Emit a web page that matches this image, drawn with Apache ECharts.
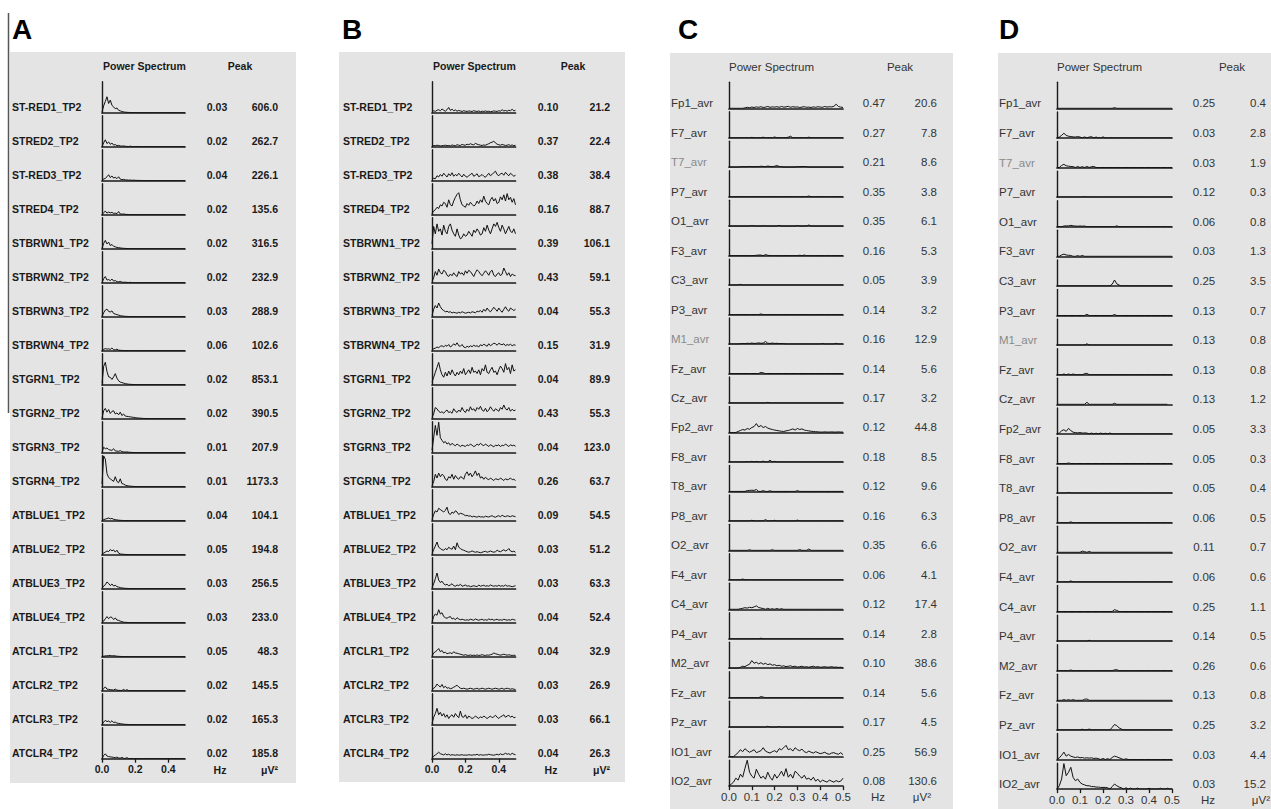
<!DOCTYPE html>
<html><head><meta charset="utf-8">
<script src="https://cdn.jsdelivr.net/npm/echarts@6/dist/echarts.min.js"></script>
<style>html,body{margin:0;padding:0;background:#fff}#c{width:1271px;height:809px}</style>
</head><body><div id="c"></div><script>
// ---------------- DATA ----------------
const FREQ = [0,0.01,0.02,0.03,0.04,0.05,0.06,0.07,0.08,0.09,0.1,0.11,0.12,0.13,0.14,0.15,0.16,0.17,0.18,0.19,0.2,0.21,0.22,0.23,0.24,0.25,0.26,0.27,0.28,0.29,0.3,0.31,0.32,0.33,0.34,0.35,0.36,0.37,0.38,0.39,0.4,0.41,0.42,0.43,0.44,0.45,0.46,0.47,0.48,0.49,0.5];
const X_TICKS_AB = [0, 0.2, 0.4];
const X_TICKS_CD = [0, 0.1, 0.2, 0.3, 0.4, 0.5];

const AB_NAMES_A = ['ST-RED1_TP2','STRED2_TP2','ST-RED3_TP2','STRED4_TP2','STBRWN1_TP2','STBRWN2_TP2','STBRWN3_TP2','STBRWN4_TP2','STGRN1_TP2','STGRN2_TP2','STGRN3_TP2','STGRN4_TP2','ATBLUE1_TP2','ATBLUE2_TP2','ATBLUE3_TP2','ATBLUE4_TP2','ATCLR1_TP2','ATCLR2_TP2','ATCLR3_TP2','ATCLR4_TP2'];
const A_HZ = ['0.03','0.02','0.04','0.02','0.02','0.02','0.03','0.06','0.02','0.02','0.01','0.01','0.04','0.05','0.03','0.03','0.05','0.02','0.02','0.02'];
const A_PW = ['606.0','262.7','226.1','135.6','316.5','232.9','288.9','102.6','853.1','390.5','207.9','1173.3','104.1','194.8','256.5','233.0','48.3','145.5','165.3','185.8'];
const A_SPEC = [
[30,260,430,606,350,480,280,220,150,180,90,70,45,30,20,15,10,8,6,5,4,3,3,2,2,2,2,1,1,1,1,1,1,1,1,1,1,1,1,1,1,1,1,1,1,1,1,1,1,1,1],
[20,150,262.7,120,180,90,140,60,80,40,50,30,20,30,15,10,8,20,5,5,4,3,10,3,3,2,2,2,8,2,2,2,2,2,2,2,2,2,2,2,2,2,2,2,2,2,2,2,2,2,2],
[10,60,90,150,226.1,120,180,100,130,80,150,60,40,50,30,30,20,25,15,20,15,10,12,8,10,6,5,5,4,4,3,3,3,3,3,3,3,3,3,3,3,3,3,3,3,3,3,3,3,3,3],
[10,80,135.6,60,100,70,90,50,60,40,120,30,20,30,15,10,8,6,5,4,3,3,3,3,3,3,3,3,3,3,3,3,3,3,3,3,3,3,3,3,3,3,3,3,3,3,3,3,3,3,3],
[20,200,316.5,180,250,120,160,90,70,50,40,30,20,15,10,8,6,5,4,3,3,2,2,2,2,2,2,2,2,2,2,2,2,2,2,2,2,2,2,2,2,2,2,2,2,2,2,2,2,2,2],
[10,150,232.9,100,120,80,140,60,80,40,30,50,20,15,20,10,8,15,5,4,3,3,3,3,3,3,3,3,3,3,3,3,3,3,3,3,3,3,3,3,3,3,3,3,3,3,3,3,3,3,3],
[20,150,250,288.9,200,180,220,120,100,80,60,40,30,20,15,10,8,6,5,4,3,3,3,3,3,3,3,3,3,3,3,3,3,3,3,3,3,3,3,3,3,3,3,3,3,3,3,3,3,3,3],
[10,50,80,60,70,50,102.6,40,30,60,20,15,10,8,6,5,4,3,3,3,3,3,3,3,3,3,3,3,3,3,3,3,3,3,3,3,3,3,3,3,3,3,3,3,3,3,3,3,3,3,3],
[50,700,853.1,500,300,280,200,300,420,250,150,100,80,60,40,30,20,15,10,8,6,5,4,4,3,3,3,3,3,3,3,3,3,3,3,3,3,3,3,3,3,3,3,3,3,3,3,3,3,3,3],
[30,300,390.5,250,350,200,280,300,180,220,150,250,120,180,100,90,80,70,60,50,40,30,25,20,15,10,8,6,5,4,3,3,3,3,3,3,3,3,3,3,3,3,3,3,3,3,3,3,3,3,3],
[20,207.9,150,180,120,100,90,150,70,60,50,80,40,30,25,30,20,15,10,8,6,5,5,4,4,3,3,3,3,3,3,3,3,3,3,3,3,3,3,3,3,3,3,3,3,3,3,3,3,3,3],
[100,1173.3,1050,500,350,300,250,200,380,200,150,300,120,100,60,40,30,20,15,10,8,6,5,4,3,3,3,3,3,3,3,3,3,3,3,3,3,3,3,3,3,3,3,3,3,3,3,3,3,3,3],
[5,40,60,80,104.1,70,90,50,40,30,20,15,10,8,6,5,4,3,3,3,2,2,2,2,2,2,2,2,2,2,2,2,2,2,2,2,2,2,2,2,2,2,2,2,2,2,2,2,2,2,2],
[10,60,100,140,120,194.8,150,180,100,170,60,30,20,15,10,8,6,5,4,3,2,2,2,2,2,2,2,2,2,2,2,2,2,2,2,2,2,2,2,2,2,2,2,2,2,2,2,2,2,2,2],
[20,100,150,256.5,200,120,180,100,130,80,60,40,30,20,15,10,8,6,5,4,3,3,3,3,3,3,3,3,3,3,3,3,3,3,3,3,3,3,3,3,3,3,3,3,3,3,3,3,3,3,3],
[10,60,150,233,150,220,200,120,180,100,90,60,40,20,15,10,8,6,5,4,3,3,3,3,3,3,3,3,3,3,3,3,3,3,3,3,3,3,3,3,3,3,3,3,3,3,3,3,3,3,3],
[5,20,30,35,40,48.3,30,40,30,20,15,10,8,6,5,4,3,3,3,3,2,2,2,2,2,2,2,2,2,2,2,2,2,2,2,2,2,2,2,2,2,2,2,2,2,2,2,2,2,2,2],
[10,80,145.5,60,50,40,30,25,60,20,15,10,8,50,6,40,5,4,3,3,2,2,2,2,2,2,2,2,2,2,2,2,2,2,2,2,2,2,2,2,2,2,2,2,2,2,2,2,2,2,2],
[10,100,165.3,120,140,90,150,80,100,60,50,40,30,20,15,10,8,6,5,4,3,3,3,3,3,3,3,3,3,3,3,3,3,3,3,3,3,3,3,3,3,3,3,3,3,3,3,3,3,3,3],
[10,120,185.8,100,80,70,60,50,40,60,30,20,50,15,10,40,8,6,5,4,3,3,3,3,3,3,3,3,3,3,3,3,3,3,3,3,3,3,3,3,3,3,3,3,3,3,3,3,3,3,3]
];

const B_HZ = ['0.10','0.37','0.38','0.16','0.39','0.43','0.04','0.15','0.04','0.43','0.04','0.26','0.09','0.03','0.03','0.04','0.04','0.03','0.03','0.04'];
const B_PW = ['21.2','22.4','38.4','88.7','106.1','59.1','55.3','31.9','89.9','55.3','123.0','63.7','54.5','51.2','63.3','52.4','32.9','26.9','66.1','26.3'];
const B_SPEC = [
[3,8,5,10,12,8,15,10,6,12,21.2,9,14,8,11,6,9,7,5,8,6,5,7,6,5,8,6,5,7,4,6,5,7,5,6,4,5,7,6,5,8,6,12,7,9,6,10,8,14,7,10],
[3,5,4,6,5,3,4,5,6,4,5,3,7,5,4,8,6,5,9,7,6,10,8,12,9,7,14,10,8,6,5,7,6,9,12,16,18,22.4,15,10,8,6,9,7,5,6,8,5,7,4,6],
[4,10,8,20,15,25,18,30,22,15,28,20,32,18,25,20,30,22,15,26,18,14,20,25,30,18,22,28,16,20,25,18,14,22,30,20,26,32,38.4,25,20,28,30,22,34,26,20,30,24,18,22],
[5,15,20,30,25,40,35,50,45,30,60,40,35,55,70,82,88.7,60,40,35,30,45,38,50,42,35,40,55,45,60,50,75,55,45,40,60,70,55,65,45,50,72,60,80,55,85,60,70,50,65,40],
[20,90,60,100,70,80,55,95,70,60,90,100,75,60,50,80,55,40,45,60,50,55,70,60,50,75,65,80,70,55,60,85,70,95,75,60,80,100,90,106.1,85,70,95,80,60,75,90,70,65,80,60],
[5,20,45,30,55,40,35,50,45,30,25,35,28,40,30,25,45,35,40,30,48,38,50,45,35,25,40,52,45,35,28,38,48,40,30,45,50,30,25,35,40,28,35,59.1,45,30,40,25,35,30,28],
[5,30,45,35,55.3,40,30,25,20,22,18,20,15,18,16,14,18,15,20,17,14,16,18,15,20,18,16,22,20,25,18,30,22,35,25,20,28,38,30,22,35,25,18,30,40,28,22,35,30,25,30],
[3,8,10,15,12,18,20,15,22,18,25,15,20,28,22,31.9,20,18,25,15,12,18,14,20,16,22,18,20,15,24,20,26,22,18,28,20,25,30,28,22,30,26,24,28,20,25,22,26,20,24,22],
[10,30,50,70,89.9,60,40,30,50,35,55,40,60,45,35,50,40,55,45,65,40,50,60,45,70,50,55,45,60,40,65,55,80,50,45,60,70,50,55,40,60,75,65,50,85,60,70,45,80,55,60],
[5,20,45,40,30,25,28,22,30,35,25,28,22,40,30,25,35,28,45,32,25,38,30,48,35,40,30,45,38,50,35,30,42,28,35,48,38,30,40,35,30,45,38,55.3,40,35,45,30,38,32,35],
[10,60,110,70,123,60,50,40,45,35,40,30,38,32,28,35,30,25,30,28,25,32,28,35,30,25,28,35,30,38,32,28,35,30,25,32,28,24,30,28,32,25,30,28,35,30,25,32,28,30,26],
[5,20,50,35,55,40,50,45,30,25,40,35,50,30,45,35,30,40,38,30,50,60,45,55,40,50,63.7,45,55,35,40,30,38,32,28,35,30,25,32,30,28,35,30,25,32,28,30,35,28,30,25],
[5,25,40,35,50,45,40,35,42,54.5,30,25,35,30,40,35,25,30,28,25,20,22,18,20,15,18,16,14,18,15,16,14,18,16,15,18,20,16,14,18,20,16,22,18,16,20,18,16,20,18,16],
[5,20,35,51.2,30,25,20,18,25,20,30,25,22,35,20,48,30,25,20,18,15,12,10,12,15,12,10,12,10,8,10,12,14,10,12,15,12,10,12,18,14,12,16,20,15,18,25,15,12,14,10],
[5,20,40,63.3,35,25,30,20,15,18,12,15,20,12,10,15,12,18,10,12,15,10,12,8,10,12,10,8,15,10,12,14,10,12,10,15,12,10,12,10,14,10,12,10,15,10,12,10,8,10,12],
[5,25,35,30,52.4,35,40,25,20,18,22,25,15,18,12,20,15,12,14,12,10,12,10,14,12,10,15,12,10,12,14,10,12,10,15,12,14,10,12,14,10,12,10,14,12,10,12,10,14,12,10],
[3,15,20,25,32.9,20,25,15,18,12,14,16,12,20,15,14,12,10,8,6,8,6,5,7,5,6,5,7,5,6,8,6,5,7,6,8,10,15,12,10,8,6,8,10,8,6,8,6,5,6,5],
[3,10,15,26.9,20,15,25,12,18,10,12,8,10,14,18,22,15,10,8,10,8,6,8,10,8,6,8,10,6,8,10,8,6,8,10,8,6,8,10,8,6,8,10,6,8,10,8,6,8,6,5],
[5,30,45,66.1,40,50,35,45,30,40,25,35,40,30,45,35,28,55,32,30,40,25,35,30,25,28,35,30,25,32,28,35,30,25,30,35,28,32,38,30,25,32,35,40,30,35,38,30,35,28,30],
[3,10,15,20,26.3,20,18,15,20,15,18,14,16,15,14,16,14,15,16,14,15,14,16,15,14,16,15,18,14,16,15,14,16,15,18,16,15,14,16,18,15,20,16,18,22,18,20,16,22,18,16]
];

const CD_NAMES = ['Fp1_avr','F7_avr','T7_avr','P7_avr','O1_avr','F3_avr','C3_avr','P3_avr','M1_avr','Fz_avr','Cz_avr','Fp2_avr','F8_avr','T8_avr','P8_avr','O2_avr','F4_avr','C4_avr','P4_avr','M2_avr','Fz_avr','Pz_avr','IO1_avr','IO2_avr'];
const C_HZ = ['0.47','0.27','0.21','0.35','0.35','0.16','0.05','0.14','0.16','0.14','0.17','0.12','0.18','0.12','0.16','0.35','0.06','0.12','0.14','0.10','0.14','0.17','0.25','0.08'];
const C_PW = ['20.6','7.8','8.6','3.8','6.1','5.3','3.9','3.2','12.9','5.6','3.2','44.8','8.5','9.6','6.3','6.6','4.1','17.4','2.8','38.6','5.6','4.5','56.9','130.6'];
const C_SPEC = [
[0,0,0,0,0,0,0,2,5,3,6,4,7,5,8,4,6,9,5,7,6,8,5,9,6,7,10,5,8,6,7,4,6,8,5,6,4,7,5,8,6,5,9,6,8,7,10,20.6,9,6,4],
[0,0,0,0,0,0,0,0,0,0,2,0,0,0,0,3,0,0,0,0,4,0,0,0,0,0,3,7.8,0,0,0,0,0,0,0,3,0,0,0,0,0,0,0,0,0,0,0,0,0,0,0],
[0,0,0,0,0,2,3,2,3,4,3,2,4,3,5,4,3,6,4,3,5,8.6,4,3,0,0,0,0,0,0,3,2,3,4,2,0,0,0,0,0,0,0,0,0,0,0,0,0,0,0,0],
[0,0,0,0,0,0,0,0,0,0,0,0,0,0,0,0,0,0,0,0,0,0,0,0,0,0,0,0,0,0,0,0,0,0,0,3.8,0,0,0,0,0,0,0,0,0,0,0,0,0,0,0],
[0,0,0,0,0,0,0,0,0,0,3,0,0,0,0,2,0,0,0,0,0,0,4,0,0,0,0,0,0,0,3,0,0,0,0,6.1,0,0,0,0,0,0,0,0,0,0,0,0,0,0,0],
[0,0,0,0,0,0,0,0,0,0,0,0,2,3,3,0,5.3,2,0,0,0,0,0,0,0,0,0,0,0,0,0,2,0,3,0,0,0,0,0,0,0,0,0,0,0,0,0,0,0,0,0],
[0,0,0,0,0,3.9,0,0,0,0,0,0,0,0,0,0,0,0,0,0,0,0,0,0,0,0,0,0,0,0,0,0,0,0,0,0,0,0,0,0,0,0,0,0,0,0,0,0,0,0,0],
[0,0,0,0,0,0,0,0,0,0,0,0,0,0,3.2,0,0,0,0,0,0,0,0,0,0,0,0,0,0,0,0,0,0,0,0,0,0,0,0,0,0,0,0,0,0,0,0,0,0,0,0],
[0,0,0,0,0,2,3,2,4,3,5,3,4,6,4,5,12.9,4,3,5,3,4,2,3,2,0,0,0,0,0,0,0,0,0,0,0,0,0,0,0,0,3,0,0,0,0,0,4,0,0,0],
[0,0,0,0,0,0,0,0,0,0,0,0,0,0,5.6,3,0,0,0,0,0,0,0,0,0,0,0,0,0,0,0,0,0,0,0,0,0,0,0,0,0,0,0,0,0,0,0,0,0,0,0],
[0,0,0,0,0,0,0,0,0,0,0,0,0,0,0,0,0,3.2,0,0,0,0,0,0,0,0,0,0,0,0,0,0,0,0,0,0,0,0,0,0,0,0,0,0,0,0,0,0,0,0,0],
[0,0,0,0,5,10,15,12,20,16,25,30,44.8,28,35,25,30,22,18,15,12,10,8,6,5,8,10,14,18,12,20,15,18,12,10,8,6,5,4,3,2,2,3,2,2,3,2,2,3,2,2],
[0,0,0,0,0,0,0,0,2,0,3,0,3,0,0,4,0,0,8.5,0,3,0,0,0,0,0,0,0,0,0,0,0,0,0,0,0,0,0,0,0,0,0,0,0,0,0,0,0,0,0,0],
[0,0,0,0,0,0,0,0,4,5,6,5,9.6,0,0,4,0,0,3,0,0,0,0,0,0,0,0,0,0,0,4,0,0,0,0,0,0,0,0,0,0,0,0,0,0,0,0,0,0,0,0],
[0,0,0,0,0,0,0,0,0,0,3,0,0,0,0,0,6.3,0,0,0,3,0,0,0,0,0,0,0,0,0,4,0,0,0,0,0,0,0,0,0,0,0,0,0,0,0,0,0,0,0,0],
[0,0,0,0,0,0,0,0,0,3,0,0,0,0,0,0,0,0,0,3,0,0,0,0,0,0,0,0,0,0,0,4,0,0,0,6.6,0,0,0,0,0,0,0,0,0,0,0,0,0,0,0],
[0,0,0,0,0,0,4.1,0,0,0,0,0,0,0,0,0,0,0,0,0,0,0,0,0,0,0,0,0,0,0,0,0,0,0,0,0,0,0,0,0,0,0,0,0,0,0,0,0,0,0,0],
[0,0,0,0,0,3,5,8,6,10,8,12,17.4,9,6,4,0,5,0,3,0,4,0,3,0,0,0,0,0,0,0,0,0,0,0,0,0,0,0,0,0,0,0,0,0,0,0,0,0,0,0],
[0,0,0,0,0,0,0,0,0,0,0,0,0,0,2.8,0,0,0,0,0,0,0,0,0,0,0,0,0,0,0,0,0,0,0,0,0,0,0,0,0,0,0,0,0,0,0,0,0,0,0,0],
[0,0,0,0,0,5,10,8,15,20,38.6,25,30,22,28,20,25,18,22,15,18,12,15,10,12,8,10,12,8,10,6,8,10,6,8,5,8,10,6,8,5,6,8,5,6,8,5,6,4,5,3],
[0,0,0,0,0,0,0,0,0,0,0,0,0,0,5.6,3,0,0,0,0,0,0,0,0,0,0,0,0,0,0,0,0,0,0,0,0,0,0,0,0,0,0,0,0,0,0,0,0,0,0,0],
[0,0,0,0,0,0,0,0,0,0,0,0,0,0,0,0,0,4.5,0,0,0,0,3,0,0,0,0,0,0,0,0,0,0,0,0,0,0,0,0,0,0,0,0,0,0,0,0,0,0,0,0],
[0,0,0,10,20,35,25,40,30,22,28,35,20,25,30,45,28,22,18,25,30,22,40,35,45,56.9,35,40,28,45,35,30,38,25,20,28,22,18,25,20,15,18,22,15,12,18,20,15,12,20,10],
[0,10,20,40,30,60,45,90,130.6,70,50,40,85,60,40,50,35,70,45,30,60,40,55,75,50,88,45,60,40,75,65,50,40,55,35,40,30,45,25,35,20,30,25,20,30,25,20,28,22,25,40]
];

const D_HZ = ['0.25','0.03','0.03','0.12','0.06','0.03','0.25','0.13','0.13','0.13','0.13','0.05','0.05','0.05','0.06','0.11','0.06','0.25','0.14','0.26','0.13','0.25','0.03','0.03'];
const D_PW = ['0.4','2.8','1.9','0.3','0.8','1.3','3.5','0.7','0.8','0.8','1.2','3.3','0.3','0.4','0.5','0.7','0.6','1.1','0.5','0.6','0.8','3.2','4.4','15.2'];
const D_SPEC = [
[0,0,0,0,0,0,0,0,0,0,0,0,0,0,0,0,0,0,0,0,0,0,0,0,0,0.4,0,0,0,0,0,0,0,0,0,0,0,0,0,0,0,0,0,0,0,0,0,0,0,0,0],
[0,0.5,1.5,2.8,1.5,1.0,0.8,0.6,0.5,0.8,0.5,0,0.6,0,0.5,0.7,0,0.5,0,0,0.6,0,0,0,0,0,0,0,0,0,0,0,0,0,0,0,0,0,0,0,0,0,0,0,0,0,0,0,0,0,0],
[0,0,1.2,1.9,1,0.8,0.6,0.5,0,0.6,0,0.5,0,0.6,0,0.5,0.6,0,0,0,0,0,0,0,0,0,0,0,0,0,0,0,0,0,0,0,0,0,0,0,0,0,0,0,0,0,0,0,0,0,0],
[0,0,0,0,0,0,0,0,0,0,0,0,0.3,0,0,0,0,0,0,0,0,0,0,0,0,0,0,0,0,0,0,0,0,0,0,0,0,0,0,0,0,0,0,0,0,0,0,0,0,0,0],
[0,0,0,0.4,0.5,0.5,0.8,0.5,0.4,0.3,0.4,0.3,0.4,0,0,0,0,0,0,0,0,0,0,0,0,0,0.5,0,0,0,0,0,0,0,0,0,0,0,0,0,0,0,0,0,0,0,0,0,0,0,0],
[0,0,0.8,1.3,0.8,0.6,0.5,0,0,0.4,0,0.5,0,0,0,0,0,0,0,0,0,0,0,0,0,0,0,0,0,0,0,0,0,0,0,0,0,0,0,0,0,0,0,0,0,0,0,0,0,0,0],
[0,0,0,0,0,0,0,0,0,0,0,0,0,0,0,0,0,0,0,0,0,0,0,0,1,3.5,1.2,0.5,0,0,0,0,0,0,0,0,0,0,0,0,0,0,0,0,0,0,0,0,0,0,0],
[0,0,0,0,0,0,0,0,0,0,0,0,0,0.7,0,0,0,0,0,0,0,0,0,0,0,0.6,0,0,0,0,0,0,0,0,0,0,0,0,0,0,0,0,0,0,0,0,0,0,0,0,0],
[0,0,0,0,0,0,0,0,0,0,0,0,0,0.8,0,0,0,0,0,0,0,0,0,0,0,0,0,0,0,0,0,0,0,0,0,0,0,0,0,0,0,0,0,0,0,0,0,0,0,0,0],
[0,0,0,0.4,0,0.4,0,0.4,0,0,0,0,0.6,0.8,0,0,0,0,0,0,0,0,0,0,0,0,0,0,0,0,0,0,0,0,0,0,0,0,0,0,0,0,0,0,0,0,0,0,0,0,0],
[0,0,0,0,0,0,0,0,0,0,0,0,0,1.2,0,0,0,0,0,0,0,0,0,0,0,0.6,0,0,0,0,0,0,0,0,0,0,0,0,0,0,0,0,0,0,0,0,0,0,0],
[0,0.5,1.8,2.5,1.5,3.3,2,1,0.8,0.6,0.8,0.5,0.6,0.5,0,0.5,0,0.4,0,0.5,0,0.4,0,0.5,0,0,0,0,0,0,0,0,0,0,0,0,0,0,0,0,0,0,0,0,0,0,0,0,0,0,0],
[0,0,0,0,0,0.3,0,0,0,0,0,0,0,0,0,0,0,0,0,0,0,0,0,0,0,0,0,0,0,0,0,0,0,0,0,0,0,0,0,0,0,0,0,0,0,0,0,0,0,0,0],
[0,0,0,0,0,0.4,0,0,0,0,0,0,0,0,0,0,0,0,0,0,0,0,0,0,0,0,0,0,0,0,0,0,0,0,0,0,0,0,0,0,0,0,0,0,0,0,0,0,0,0,0],
[0,0,0,0,0,0,0.5,0,0,0,0,0,0,0,0,0,0,0,0,0,0,0,0,0,0,0,0,0,0,0,0,0,0,0,0,0,0,0,0,0,0,0,0,0,0,0,0,0,0,0,0],
[0,0,0,0,0,0,0,0,0,0,0,0.7,0.4,0,0.5,0,0,0,0,0,0,0,0,0,0,0,0,0,0,0,0,0,0,0,0,0,0,0,0,0,0,0,0,0,0,0,0,0,0,0,0],
[0,0,0,0,0,0,0.6,0,0,0,0,0,0,0,0,0,0,0,0,0,0,0,0,0,0,0,0,0,0,0,0,0,0,0,0,0,0,0,0,0,0,0,0,0,0,0,0,0,0,0,0],
[0,0,0,0,0,0,0,0,0,0,0,0,0,0,0,0,0,0,0,0,0,0,0,0,0,1.1,0.6,0,0,0,0,0,0,0,0,0,0,0,0,0,0,0,0,0,0,0,0,0,0,0,0],
[0,0,0,0,0,0,0,0,0,0,0,0,0,0,0.5,0,0,0,0,0,0,0,0,0,0,0,0,0,0,0,0,0,0,0,0,0,0,0,0,0,0,0,0,0,0,0,0,0,0,0,0],
[0,0,0,0,0,0,0.4,0,0,0,0,0,0,0,0,0,0,0,0,0,0,0,0,0,0,0.5,0.6,0,0,0,0,0,0,0,0,0,0,0,0,0,0,0,0,0,0,0,0,0,0,0,0],
[0,0,0,0.4,0,0.4,0,0.4,0,0,0,0,0.6,0.8,0,0,0,0,0,0,0,0,0,0,0,0,0,0,0,0,0,0,0,0,0,0,0,0,0,0,0,0,0,0,0,0,0,0,0,0,0],
[0,0,0,0,0,0,0,0,0,0,0,0.4,0,0,0.5,0,0,0,0,0,0,0,0,0,1.5,3.2,2.5,1.2,0.5,0,0,0,0,0,0,0,0,0,0,0,0,0,0,0,0,0,0,0,0,0,0],
[0,1,2.5,4.4,2,3,2,1.5,1.2,1.5,1,1.2,0.8,1,0.8,1,0.6,0.8,0.5,0,0.6,0,0.5,0,1.2,2,1.6,1,0.5,0,0.4,0,0,0,0,0,0,0,0,0,0,0,0,0,0,0,0,0,0,0,0],
[0,2,6,15.2,8,10,13,7,5,6,4,3,2.5,2,2,1.5,1.5,1.2,1.2,1,1,1,0.8,0,1.5,3,2,1.2,0.8,0,0.8,0,0.6,0,0,0.6,0,0,0,0,0.5,0,0,0,0,0.5,0,0,0.5,0,0]
];

// ---------------- LAYOUT / STYLE ----------------
const FONT = '"Liberation Sans", Arial, sans-serif';
const DIM = new Set(['T7_avr','M1_avr']);
const PANELS = [
  {letter:'A', names:AB_NAMES_A, hz:A_HZ, pw:A_PW, spec:A_SPEC, yMax:1180, ticks:X_TICKS_AB,
   box:[10,52,296,783], letX:12, psX:103, peakX:240, headY:66, x0:102, x1:185, base0:112.7, step:34.0, h:31,
   labX:12, hzX:217, pwX:278, botY:770, hzLabX:220, uvX:278, bold:true, fs:10.5, lab:6},
  {letter:'B', names:AB_NAMES_A, hz:B_HZ, pw:B_PW, spec:B_SPEC, yMax:125, ticks:X_TICKS_AB,
   box:[339,52,625,782], letX:342, psX:433, peakX:573, headY:66, x0:432, x1:515.5, base0:112.7, step:34.0, h:31,
   labX:343, hzX:548, pwX:610, botY:770, hzLabX:551, uvX:610, bold:true, fs:10.5, lab:6},
  {letter:'C', names:CD_NAMES, hz:C_HZ, pw:C_PW, spec:C_SPEC, yMax:131, ticks:X_TICKS_CD,
   box:[670,53,953,809], letX:678, psX:729, peakX:900, headY:67, x0:729, x1:843, base0:108.3, step:29.47, h:26,
   labX:671, hzX:874, pwX:937, botY:797, hzLabX:878, uvX:931, bold:false, fs:11.5, lab:5},
  {letter:'D', names:CD_NAMES, hz:D_HZ, pw:D_PW, spec:D_SPEC, yMax:15.5, ticks:X_TICKS_CD,
   box:[998,53,1271,809], letX:999, psX:1057, peakX:1232, headY:67, x0:1057, x1:1172, base0:108.3, step:29.6, h:26,
   labX:999, hzX:1204, pwX:1266, botY:800, hzLabX:1208, uvX:1270, bold:false, fs:11.5, lab:5}
];

const grids=[], xAxes=[], yAxes=[], series=[], graphics=[];
function txt(x,y,t,opt){
  graphics.push({type:'text', x:x, y:y, z:10, silent:true, style:Object.assign({text:t, fill:'#222',
    font:'11px '+FONT, textAlign:'left', textVerticalAlign:'middle'}, opt||{})});
}
// scan artifact line at left of panel A
graphics.push({type:'line', z:10, silent:true, shape:{x1:8.5,y1:13,x2:8.5,y2:413}, style:{stroke:'#555', lineWidth:1.5}});

PANELS.forEach(P=>{
  const [bx1,by1,bx2,by2]=P.box;
  graphics.push({type:'rect', z:-10, silent:true, shape:{x:bx1,y:by1,width:bx2-bx1,height:by2-by1}, style:{fill:'#e4e4e4'}});
  txt(P.letX, 29.5, P.letter, {font:'bold 28px '+FONT, fill:'#000'});
  const f = (P.bold?'bold ':'')+P.fs+'px '+FONT;
  const tc = P.bold ? '#1a1a1a' : '#333';
  txt(P.psX, P.headY, 'Power Spectrum', {font:f, fill:tc});
  txt(P.peakX, P.headY, 'Peak', {font:f, fill:tc, textAlign:'center'});
  const n = P.names.length;
  P.names.forEach((name,i)=>{
    const base = P.base0 + P.step*i;
    const gi = grids.length;
    const last = i===n-1;
    grids.push({left:P.x0, top:base-P.h, width:P.x1-P.x0, height:P.h, containLabel:false, outerBoundsMode:'none'});
    xAxes.push({type:'value', gridIndex:gi, min:0, max:0.5, interval:P.ticks[1]-P.ticks[0],
      axisLine:{show:true, onZero:false, lineStyle:{color:'#1a1a1a', width:1.7}},
      axisTick:{show:last, length:4, lineStyle:{color:'#1a1a1a', width:1.3}},
      axisLabel:{show:last, margin:5, fontFamily:FONT, fontSize:P.fs, fontWeight:P.bold?'bold':'normal', color:tc,
        showMaxLabel: P.ticks[P.ticks.length-1]===0.5, formatter:v=>v.toFixed(1)},
      splitLine:{show:false}});
    yAxes.push({type:'value', gridIndex:gi, min:0, max:P.yMax,
      axisLine:{show:true, lineStyle:{color:'#1a1a1a', width:1.4}},
      axisTick:{show:false}, axisLabel:{show:false}, splitLine:{show:false}});
    series.push({type:'line', xAxisIndex:gi, yAxisIndex:gi, showSymbol:false, symbol:'none', animation:false,
      silent:true, clip:true, lineStyle:{color:'#111', width:1},
      data: P.spec[i].map((v,j)=>[FREQ[j], v])});
    const ly = base - P.lab;
    txt(P.labX, ly, name, {font:f, fill: DIM.has(name)?'#8a8a8a':tc});
    txt(P.hzX, ly, P.hz[i], {font:f, fill:tc, textAlign:'center'});
    txt(P.pwX, ly, P.pw[i], {font:f, fill:tc, textAlign:'right'});
  });
  txt(P.hzLabX, P.botY, 'Hz', {font:f, fill:tc, textAlign:'center'});
  txt(P.uvX, P.botY, 'μV²', {font:f, fill:tc, textAlign:'right'});
});

const chart = echarts.init(document.getElementById('c'), null, {renderer:'svg', width:1271, height:809});
chart.setOption({animation:false, backgroundColor:'#fff', grid:grids, xAxis:xAxes, yAxis:yAxes, series:series, graphic:graphics});
</script></body></html>
